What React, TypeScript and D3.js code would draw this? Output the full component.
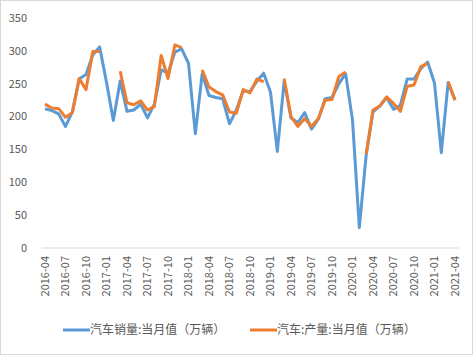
import React, { useEffect, useRef } from "react";
import * as d3 from "d3";

// months 2016-04 .. 2021-04
const months: string[] = [];
for (let y = 2016; y <= 2021; y++) {
    for (let m = 1; m <= 12; m++) {
        if (y === 2016 && m < 4) continue;
        if (y === 2021 && m > 4) continue;
        months.push(`${y}-${m < 10 ? "0" + m : m}`);
    }
}

const sales = [
    212, 209, 204, 185, 207, 257, 264, 294, 306,
    252, 194, 254, 208, 210, 219, 198, 219, 271, 266, 298, 303,
    281, 174, 265, 232, 229, 227, 189, 210, 239, 238, 254, 266,
    237, 147, 254, 198, 191, 206, 181, 196, 227, 229, 250, 265,
    195, 31, 141, 207, 216, 229, 211, 217, 257, 257, 273, 283,
    251, 145, 252, 225,
];

const production = [
    219, 213, 212, 199, 206, 258, 241, 299, 299,
    null, null, 269, 221, 218, 224, 210, 215, 293, 258, 309, 305,
    null, null, 271, 245, 238, 233, 207, 205, 241, 236, 257, 253,
    null, null, 258, 200, 185, 197, 185, 197, 225, 226, 261, 268,
    null, null, 143, 210, 216, 230, 220, 208, 246, 248, 276, 281,
    null, null, 253, 225,
];

const yTicks = [0, 50, 100, 150, 200, 250, 300, 350];
const seriesNames = ["汽车销量:当月值（万辆）", "汽车:产量:当月值（万辆）"];
const colors = ["#5b9bd5", "#ed7d31"];

const Chart = props => {
    const ref = useRef(null);

    useEffect(() => {
        const g = d3.select(ref.current);
        g.selectAll("*").remove();

        const font = "'Noto Sans CJK SC', 'Noto Sans', sans-serif";

        const xScale = d3.scaleLinear()
            .domain([-0.5, months.length - 0.5])
            .range([41.6, 458.4]);

        const yScale = d3.scaleLinear()
            .domain([0, 350])
            .range([248, 18]);

        // outer border
        g.append("rect")
            .attr("x", 0.5).attr("y", 0.5)
            .attr("width", props.width - 1).attr("height", props.height - 1)
            .attr("fill", "white")
            .attr("stroke", "#d9d9d9");

        // y labels
        g.selectAll(".ylab")
            .data(yTicks)
            .enter().append("text")
                .attr("x", 27)
                .attr("y", d => yScale(d))
                .attr("dy", "0.35em")
                .attr("text-anchor", "end")
                .attr("font-family", font)
                .attr("font-size", 11)
                .attr("fill", "#595959")
                .text(d => d);

        // x axis line
        g.append("line")
            .attr("x1", xScale.range()[0]).attr("x2", xScale.range()[1])
            .attr("y1", yScale(0)).attr("y2", yScale(0))
            .attr("stroke", "#d9d9d9");

        months.forEach((m, i) => {
            if (i % 3 !== 0) return;
            const x = xScale(i);
            g.append("text")
                .attr("transform", `translate(${x}, 256) rotate(-90)`)
                .attr("dy", "0.35em")
                .attr("text-anchor", "end")
                .attr("font-family", font)
                .attr("font-size", 11)
                .attr("fill", "#595959")
                .text(m);
        });

        const line = d3.line()
            .defined(d => d[1] != null)
            .x(d => xScale(d[0]))
            .y(d => yScale(d[1]));

        [sales, production].forEach((s, k) => {
            g.append("path")
                .datum(s.map((v, i) => [i, v]))
                .attr("d", line)
                .attr("fill", "none")
                .attr("stroke", colors[k])
                .attr("stroke-width", 3)
                .attr("stroke-linejoin", "round");
        });

        // legend
        const legendX = [63, 250];
        seriesNames.forEach((name, k) => {
            g.append("line")
                .attr("x1", legendX[k]).attr("x2", legendX[k] + 27)
                .attr("y1", 330).attr("y2", 330)
                .attr("stroke", colors[k])
                .attr("stroke-width", 3);
            g.append("text")
                .attr("x", legendX[k] + 27)
                .attr("y", 330)
                .attr("dy", "0.35em")
                .attr("font-family", font)
                .attr("font-size", 12)
                .attr("fill", "#595959")
                .text(name);
        });
    }, [props.width, props.height]);

    return (
        <svg width={props.width} height={props.height}
            style={{ position: "absolute", left: 0, top: 0, display: "block" }}>
            <g ref={ref} />
        </svg>
    );
};

export default function App() {
    return <Chart width={473} height={355} />;
}
